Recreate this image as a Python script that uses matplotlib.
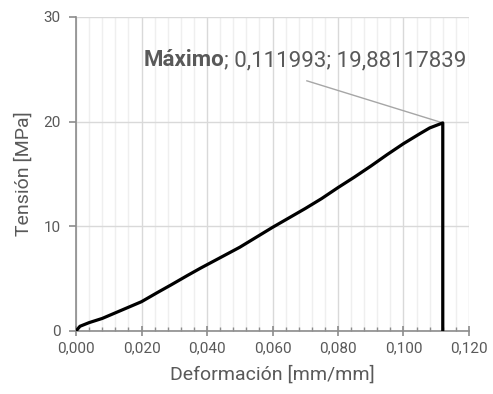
import matplotlib
matplotlib.use("Agg")
import matplotlib.pyplot as plt
from matplotlib.ticker import MultipleLocator, FuncFormatter
from matplotlib.transforms import offset_copy

plt.rcParams['font.family'] = ['Roboto', 'DejaVu Sans']

# Stress-strain curve
deformacion = [0.0, 0.0012, 0.004, 0.008, 0.014, 0.020, 0.025, 0.029, 0.034,
               0.038, 0.044, 0.050, 0.055, 0.060, 0.065, 0.070, 0.075,
               0.080, 0.085, 0.090, 0.095, 0.100, 0.105, 0.108, 0.111993,
               0.111993]
tension = [0.0, 0.45, 0.8, 1.2, 2.0, 2.8, 3.7, 4.4, 5.3,
           6.0, 7.0, 8.0, 8.95, 9.9, 10.8, 11.7, 12.65,
           13.7, 14.7, 15.75, 16.85, 17.9, 18.85, 19.4, 19.88117839,
           0.0]
max_x = 0.111993
max_y = 19.88117839

TEXT = '#595959'

fig = plt.figure(figsize=(4.93, 3.94), dpi=100)
ax = fig.add_axes([0.1542, 0.1599, 0.7971, 0.7970])

ax.plot(deformacion, tension, color='black', lw=2.3, solid_joinstyle='round',
        solid_capstyle='butt', zorder=3)

ax.set_xlim(0, 0.12)
ax.set_ylim(0, 30)
ax.xaxis.set_major_locator(MultipleLocator(0.02))
ax.xaxis.set_minor_locator(MultipleLocator(0.004))
ax.yaxis.set_major_locator(MultipleLocator(10))
ax.xaxis.set_major_formatter(FuncFormatter(lambda v, p: f"{v:.3f}".replace('.', ',')))

ax.grid(which='major', axis='both', color='#d9d9d9', lw=1.0)
ax.grid(which='minor', axis='x', color='#efefef', lw=1.0)
ax.set_axisbelow(True)

for s in ('top', 'right'):
    ax.spines[s].set_visible(False)
for s in ('left', 'bottom'):
    ax.spines[s].set_color('#8c8c8c')
    ax.spines[s].set_linewidth(1.2)

ax.tick_params(axis='x', which='major', direction='inout', length=7, width=1.2,
               color='#8c8c8c', labelsize=11, labelcolor=TEXT, pad=4)
ax.tick_params(axis='x', which='minor', direction='in', length=3, width=1.0,
               color='#8c8c8c')
ax.tick_params(axis='y', which='major', direction='out', length=5, width=1.2,
               color='#8c8c8c', labelsize=11, labelcolor=TEXT, pad=6)

ax.set_xlabel('Deformación [mm/mm]', fontsize=14, color=TEXT, labelpad=7)
ax.set_ylabel('Tensión [MPa]', fontsize=14, color=TEXT, labelpad=8)

# Peak label with leader line
ax.plot([0.0705, max_x], [23.9, max_y], color='#a6a6a6', lw=1.0, zorder=2)
t1 = ax.text(0.0205, 25.3, 'Máximo', fontsize=16, fontweight='bold', color=TEXT,
             va='baseline', ha='left')
fig.canvas.draw()
w = t1.get_window_extent().width
ax.text(0.0205, 25.3, f"; {max_x:.6f}; {max_y:.8f}".replace('.', ','),
        fontsize=16, color=TEXT, va='baseline', ha='left',
        transform=offset_copy(ax.transData, fig=fig, x=w, y=0, units='dots'))

fig.savefig('out.png', dpi=100)
